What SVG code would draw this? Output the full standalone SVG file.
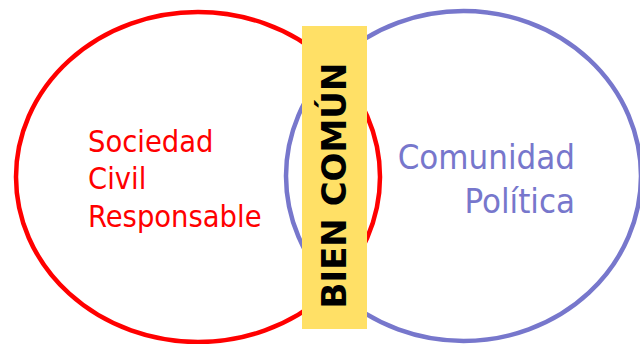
<svg xmlns="http://www.w3.org/2000/svg" width="640" height="344" viewBox="0 0 640 344">
<style>
.ring{fill:none;stroke-width:4.5}
.lbl{font-family:"DejaVu Sans Condensed","Liberation Sans",Arial,sans-serif}
</style>
<rect width="640" height="344" fill="#ffffff"/>
<g id="sociedad">
<ellipse class="ring" cx="198" cy="177" rx="182" ry="165" stroke="#ff0000"/>
<text class="lbl" font-size="30.5" fill="#ff0000" x="88"><tspan x="88" y="151.5">Sociedad</tspan><tspan x="88" y="189">Civil</tspan><tspan x="88" y="226.5">Responsable</tspan></text>
</g>
<g id="comunidad">
<ellipse class="ring" cx="463.5" cy="176" rx="177.5" ry="165" stroke="#7777cc" stroke-width="4"/>
<text class="lbl" font-size="34.5" fill="#7777cc" text-anchor="end"><tspan x="575" y="168.5">Comunidad</tspan><tspan x="575" y="212.5">Política</tspan></text>
</g>
<g id="bien-comun">
<rect x="302" y="26" width="65" height="303" fill="#ffe066"/>
<text transform="translate(346,185.5) rotate(-90)" text-anchor="middle" font-family="'DejaVu Sans',Verdana,sans-serif" font-weight="bold" font-size="34" fill="#000000">BIEN COMÚN</text>
</g>
</svg>
